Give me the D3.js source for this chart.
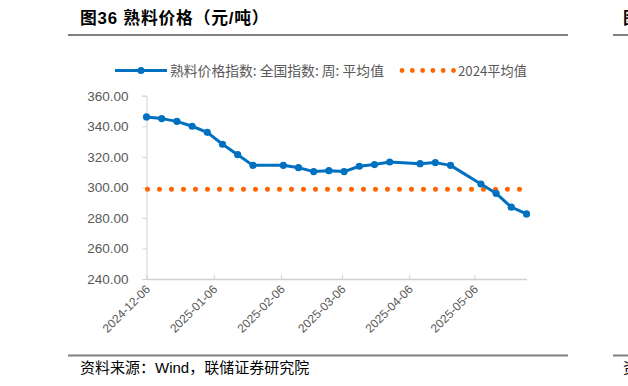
<!DOCTYPE html>
<html>
<head>
<meta charset="utf-8">
<script src="https://cdn.jsdelivr.net/npm/d3@7"></script>
<style>
  body { margin: 0; background: #fff; }
  svg { display: block; font-family: "Liberation Sans", Arial, "Noto Sans CJK SC", sans-serif; }
</style>
</head>
<body>
<svg id="chart" width="628" height="386"></svg>
<script>
// 周度数据（熟料价格指数：全国）
const dates = ["2024-12-06", "2024-12-13", "2024-12-20", "2024-12-27", "2025-01-03", "2025-01-10",
  "2025-01-17", "2025-01-24", "2025-02-07", "2025-02-14", "2025-02-21", "2025-02-28",
  "2025-03-07", "2025-03-14", "2025-03-21", "2025-03-28", "2025-04-11", "2025-04-18",
  "2025-04-25", "2025-05-09", "2025-05-16", "2025-05-23", "2025-05-30"];
const prices = [346.1, 345.0, 343.2, 340.0, 336.0, 328.2, 321.4, 314.4, 314.4, 312.9, 310.3, 310.9,
  310.3, 313.8, 314.9, 316.6, 315.5, 316.2, 314.4, 302.2, 296.1, 287.0, 282.6];
const avg2024 = 298.7;
const tickDates = ["2024-12-06", "2025-01-06", "2025-02-06", "2025-03-06", "2025-04-06", "2025-05-06"];
const yTicks = [240, 260, 280, 300, 320, 340, 360];

const parse = d3.timeParse("%Y-%m-%d");
const fmt = d3.timeFormat("%Y-%m-%d");
const points = dates.map((d, i) => ({ date: parse(d), value: prices[i] }));

const blue = "#0070c0", orange = "#ff6600", gray = "#595959", axisGray = "#d0d0d0";

const svg = d3.select("#chart");

// 标题
svg.append("text").attr("x", 80).attr("y", 23.5)
  .attr("font-size", 16.8).attr("font-weight", "bold").attr("fill", "#000")
  .attr("letter-spacing", 0.8)
  .text("图36 熟料价格（元/吨）");
svg.append("text").attr("x", 623).attr("y", 23.5)
  .attr("font-size", 16.5).attr("font-weight", "bold").attr("fill", "#000")
  .text("图");

// 分隔线
[[68, 568], [613, 628]].forEach(([a, b]) => {
  svg.append("line").attr("x1", a).attr("x2", b).attr("y1", 35).attr("y2", 35)
    .attr("stroke", "#808080").attr("stroke-width", 2);
  svg.append("line").attr("x1", a).attr("x2", b).attr("y1", 355.5).attr("y2", 355.5)
    .attr("stroke", "#808080").attr("stroke-width", 2);
});

// 比例尺
const x = d3.scaleTime()
  .domain([parse(dates[0]), parse(dates[dates.length - 1])])
  .range([146.5, 526.5]);
const y = d3.scaleLinear().domain([240, 360]).range([279, 95.7]);

// Y轴
const yAxis = svg.append("g").attr("transform", "translate(146.5,0)")
  .call(d3.axisLeft(y).tickValues(yTicks).tickFormat(d3.format(".2f")).tickSize(4).tickPadding(14));
yAxis.select(".domain").attr("stroke", axisGray);
yAxis.selectAll(".tick line").attr("stroke", axisGray);
yAxis.selectAll(".tick text").attr("fill", gray).attr("font-size", 13.5)
  .attr("font-family", "'Liberation Sans', Arial, sans-serif");

// X轴
const xAxis = svg.append("g").attr("transform", "translate(0,279)")
  .call(d3.axisBottom(x).tickValues(tickDates.map(parse)).tickFormat(fmt).tickSizeInner(-4).tickSizeOuter(0));
xAxis.select(".domain").attr("stroke", axisGray).attr("stroke-width", 1.5);
xAxis.selectAll(".tick line").attr("stroke", axisGray);
xAxis.selectAll(".tick text")
  .attr("fill", gray).attr("font-size", 12)
  .attr("text-anchor", "end")
  .attr("dy", 0).attr("y", 0)
  .attr("transform", "translate(4,11) rotate(-45)");

// 2024平均值（点线）
svg.append("line")
  .attr("x1", x(points[0].date) + 1).attr("x2", x(points[points.length - 1].date))
  .attr("y1", y(avg2024)).attr("y2", y(avg2024))
  .attr("stroke", orange).attr("stroke-width", 5)
  .attr("stroke-linecap", "round").attr("stroke-dasharray", "0 12");

// 价格折线
svg.append("path").datum(points)
  .attr("fill", "none").attr("stroke", blue).attr("stroke-width", 3)
  .attr("stroke-linejoin", "round")
  .attr("d", d3.line().x(d => x(d.date)).y(d => y(d.value)));
svg.selectAll(".pt").data(points).enter().append("circle")
  .attr("class", "pt")
  .attr("cx", d => x(d.date)).attr("cy", d => y(d.value)).attr("r", 3.6)
  .attr("fill", blue);

// 图例
const lg = svg.append("g").attr("font-family", "'Noto Sans CJK SC', sans-serif")
  .attr("font-size", 13.8).attr("fill", gray);
lg.append("line").attr("x1", 115).attr("x2", 167).attr("y1", 70.5).attr("y2", 70.5)
  .attr("stroke", blue).attr("stroke-width", 3);
lg.append("circle").attr("cx", 141).attr("cy", 70.5).attr("r", 3.6).attr("fill", blue);
lg.append("text").attr("x", 170).attr("y", 75.5).text("熟料价格指数: 全国指数: 周: 平均值");
d3.range(6).forEach(i => {
  lg.append("circle").attr("cx", 402 + i * 10.3).attr("cy", 70.5).attr("r", 2.4).attr("fill", orange);
});
lg.append("text").attr("x", 458).attr("y", 75.5).attr("font-size", 13.2).text("2024平均值");

// 资料来源
svg.append("text").attr("x", 80).attr("y", 373)
  .attr("font-size", 15).attr("fill", "#000")
  .attr("font-family", "'Liberation Sans', Arial, 'Noto Sans CJK SC', sans-serif")
  .text("资料来源：Wind，联储证券研究院");
svg.append("text").attr("x", 623).attr("y", 373)
  .attr("font-size", 15).attr("fill", "#000")
  .attr("font-family", "'Noto Sans CJK SC', sans-serif")
  .text("资");
</script>
</body>
</html>
